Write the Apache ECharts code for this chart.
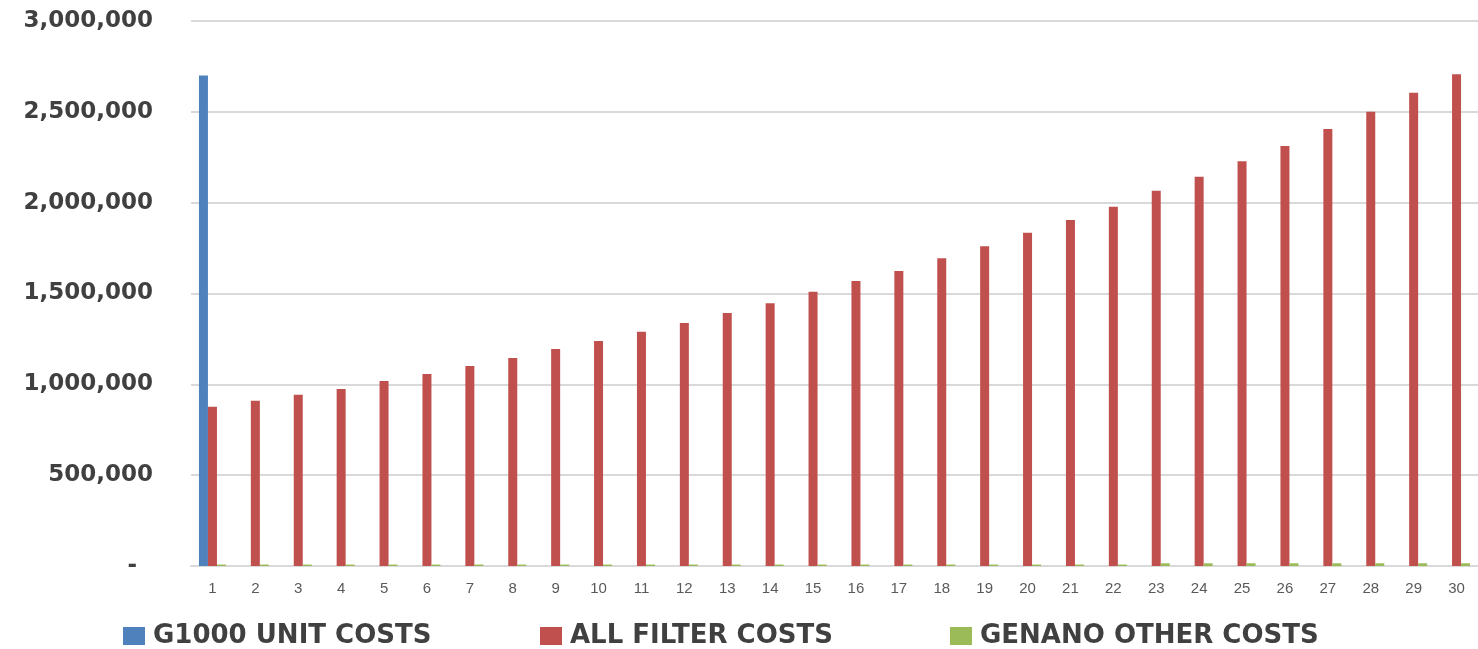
<!DOCTYPE html>
<html>
<head>
<meta charset="utf-8">
<script src="https://cdn.jsdelivr.net/npm/echarts@6/dist/echarts.min.js"></script>
<style>
  html, body {margin: 0; padding: 0; background: #fff;}
  #chart {width: 1478px; height: 649px;}
</style>
</head>
<body>
<div id="chart"></div>
<script>
var years = ['1','2','3','4','5','6','7','8','9','10','11','12','13','14','15',
    '16','17','18','19','20','21','22','23','24','25','26','27','28','29','30'];
var unitCosts = [2700000,0,0,0,0,0,0,0,0,0,0,0,0,0,0,0,0,0,0,0,0,0,0,0,0,0,0,0,0,0];
var filterCosts = [876000,909000,942000,975000,1018000,1057000,1101000,1145000,1195000,1239000,
    1289000,1338000,1393000,1446000,1509000,1569000,1624000,1694000,1760000,1834000,
    1905000,1977000,2065000,2142000,2228000,2312000,2405000,2500000,2605000,2707000];
var otherCosts = [8000,8000,8000,8000,8000,8000,8000,8000,8000,8000,
    8000,8000,8000,8000,8000,8000,8000,8000,8000,8000,
    8000,8000,15000,15000,15000,15000,15000,15000,15000,15000];
var names = ['G1000 UNIT COSTS', 'ALL FILTER COSTS', 'GENANO OTHER COSTS'];
var colors = ['#4F81BD', '#C0504D', '#9BBB59'];

function yfmt (value) {
    if (value === 0) {return '{dash|-}';}
    return value.toLocaleString('en-US');
};

function legendAt (name, x) {
    return {
        data: [name], left: x, top: 618,
        icon: 'rect', itemWidth: 22, itemHeight: 18,
        selectedMode: false,
        textStyle: {fontFamily: 'DejaVu Sans', fontWeight: 'bold', fontSize: 26, color: '#404040', lineHeight: 26, padding: [0, 0, 0, 3]}
    };
};

var chart = echarts.init(document.getElementById('chart'));
var opt = {
    animation: false,
    color: colors,
    legend: [legendAt(names[0], 118), legendAt(names[1], 535), legendAt(names[2], 945)],
    grid: {left: 191, top: 21, width: 1290, height: 545, containLabel: false},
    xAxis: {
        type: 'category', data: years,
        axisLine: {lineStyle: {color: '#d9d9d9', width: 2}},
        axisTick: {show: false},
        axisLabel: {color: '#595959', fontSize: 15, fontFamily: 'Liberation Sans', margin: 15}
    },
    yAxis: {
        type: 'value', min: 0, max: 3000000, interval: 500000,
        axisLine: {show: false}, axisTick: {show: false},
        splitLine: {lineStyle: {color: '#d9d9d9', width: 2}},
        axisLabel: {
            formatter: yfmt, margin: 38,
            color: '#404040', fontSize: 23, fontWeight: 'bold', fontFamily: 'DejaVu Sans',
            rich: {dash: {color: '#404040', fontSize: 23, fontWeight: 'bold', fontFamily: 'DejaVu Sans', padding: [0, 16, 0, 0]}}
        }
    },
    series: [
        {name: names[0], type: 'bar', data: unitCosts, barWidth: 9, barGap: '0%'},
        {name: names[1], type: 'bar', data: filterCosts, barWidth: 9, barGap: '0%'},
        {name: names[2], type: 'bar', data: otherCosts, barWidth: 9, barGap: '0%'}
    ]
};
chart.setOption(opt);
</script>
</body>
</html>
